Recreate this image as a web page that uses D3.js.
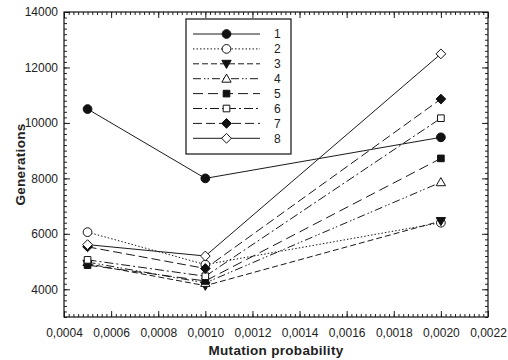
<!DOCTYPE html>
<html>
<head>
<meta charset="utf-8">
<script src="https://cdn.jsdelivr.net/npm/d3@7"></script>
<style>
  html, body { margin: 0; padding: 0; background: #fff; }
  svg { display: block; font-family: "Liberation Sans", Arial, sans-serif; }
</style>
</head>
<body>
<svg id="chart" width="508" height="360"></svg>
<script>
// Mutation probabilities tested
const mutationRates = [0.0005, 0.0010, 0.0020];

// Generations needed for each configuration (series 1..8)
const seriesNames = ["1", "2", "3", "4", "5", "6", "7", "8"];
const series1 = [10500, 8000, 9480];
const series2 = [6060, 4890, 6400];
const series3 = [4920, 4130, 6460];
const series4 = [4980, 4230, 7860];
const series5 = [4870, 4300, 8720];
const series6 = [5060, 4470, 10170];
const series7 = [5530, 4750, 10860];
const series8 = [5610, 5200, 12490];

// Axis ticks
const xTicks = [0.0004, 0.0006, 0.0008, 0.0010, 0.0012, 0.0014, 0.0016, 0.0018, 0.0020, 0.0022];
const yTicks = [4000, 6000, 8000, 10000, 12000, 14000];

const allSeries = [series1, series2, series3, series4, series5, series6, series7, series8];

// Line style and marker for each series
const styles = [
  { dash: null,                 marker: "circle",   filled: true  },
  { dash: "1.5,2",              marker: "circle",   filled: false },
  { dash: "6,3",                marker: "triDown",  filled: true  },
  { dash: "8,3,1.5,2,1.5,3",    marker: "triUp",    filled: false },
  { dash: "10,5",               marker: "square",   filled: true  },
  { dash: "9,3,2,3",            marker: "square",   filled: false },
  { dash: "9,4",                marker: "diamond",  filled: true  },
  { dash: null,                 marker: "diamond",  filled: false }
];

const svg = d3.select("#chart");
const plot = { left: 64, right: 488, top: 12, bottom: 317 };

const x = d3.scaleLinear().domain([0.0004, 0.0022]).range([plot.left, plot.right]);
const y = d3.scaleLinear().domain([3000, 14000]).range([plot.bottom, plot.top]);

const fmtX = v => d3.format(".4f")(v).replace(".", ",");

// Minor tick positions
const xMinor = d3.range(0, 91).map(i => 0.0004 + i * 0.00002);
const yMinor = d3.range(0, 56).map(i => 3000 + i * 200);

const tickColor = "#222";

function drawAxis(axis, transform, labels) {
  const g = svg.append("g").attr("transform", transform).call(axis);
  g.select(".domain").remove();
  g.selectAll(".tick line").attr("stroke", tickColor);
  g.selectAll("text").attr("fill", "#222").style("font-size", "12px");
  if (!labels) g.selectAll("text").remove();
  return g;
}

// Minor ticks on all four sides, pointing inward
drawAxis(d3.axisBottom(x).tickValues(xMinor).tickSize(-3).tickFormat(""), `translate(0,${plot.bottom})`, false);
drawAxis(d3.axisTop(x).tickValues(xMinor).tickSize(-3).tickFormat(""), `translate(0,${plot.top})`, false);
drawAxis(d3.axisLeft(y).tickValues(yMinor).tickSize(-3).tickFormat(""), `translate(${plot.left},0)`, false);
drawAxis(d3.axisRight(y).tickValues(yMinor).tickSize(-3).tickFormat(""), `translate(${plot.right},0)`, false);

// Major ticks
drawAxis(d3.axisBottom(x).tickValues(xTicks).tickSize(-6).tickPadding(11).tickFormat(fmtX), `translate(0,${plot.bottom})`, true);
drawAxis(d3.axisTop(x).tickValues(xTicks).tickSize(-6).tickFormat(""), `translate(0,${plot.top})`, false);
drawAxis(d3.axisLeft(y).tickValues(yTicks).tickSize(-6).tickPadding(6).tickFormat(d3.format("d")), `translate(${plot.left},0)`, true);
drawAxis(d3.axisRight(y).tickValues(yTicks).tickSize(-6).tickFormat(""), `translate(${plot.right},0)`, false);

// Plot frame
svg.append("rect")
  .attr("x", plot.left).attr("y", plot.top)
  .attr("width", plot.right - plot.left).attr("height", plot.bottom - plot.top)
  .attr("fill", "none").attr("stroke", "#111").attr("stroke-width", 1.2);

// Marker shapes
const markerTypes = {
  circle: d3.symbolCircle,
  square: d3.symbolSquare,
  triUp: {
    draw(ctx, size) {
      const s = Math.sqrt(size);
      ctx.moveTo(0, -s * 0.6);
      ctx.lineTo(s * 0.6, s * 0.45);
      ctx.lineTo(-s * 0.6, s * 0.45);
      ctx.closePath();
    }
  },
  triDown: {
    draw(ctx, size) {
      const s = Math.sqrt(size);
      ctx.moveTo(0, s * 0.6);
      ctx.lineTo(s * 0.6, -s * 0.45);
      ctx.lineTo(-s * 0.6, -s * 0.45);
      ctx.closePath();
    }
  },
  diamond: {
    draw(ctx, size) {
      const r = Math.sqrt(size) * 0.72;
      ctx.moveTo(0, -r);
      ctx.lineTo(r, 0);
      ctx.lineTo(0, r);
      ctx.lineTo(-r, 0);
      ctx.closePath();
    }
  }
};
const markerSize = { circle: 60, square: 44, triUp: 60, triDown: 60, diamond: 46 };

function markerPath(name) {
  return d3.symbol().type(markerTypes[name]).size(markerSize[name])();
}

const line = d3.line().x((d, i) => x(mutationRates[i])).y(d => y(d));

// Lines first, then markers on top
allSeries.forEach((vals, i) => {
  const st = styles[i];
  svg.append("path")
    .datum(vals)
    .attr("d", line)
    .attr("fill", "none")
    .attr("stroke", "#1a1a1a")
    .attr("stroke-width", 1)
    .attr("stroke-dasharray", st.dash);
});

allSeries.forEach((vals, i) => {
  const st = styles[i];
  svg.append("g").selectAll("path")
    .data(vals)
    .join("path")
    .attr("d", markerPath(st.marker))
    .attr("transform", (d, j) => `translate(${x(mutationRates[j])},${y(d)})`)
    .attr("fill", st.filled ? "#111" : "#fff")
    .attr("stroke", "#111")
    .attr("stroke-width", 1);
});

// Legend
const legend = svg.append("g");
legend.append("rect")
  .attr("x", 186).attr("y", 19)
  .attr("width", 105).attr("height", 135)
  .attr("fill", "#fff").attr("stroke", "#111").attr("stroke-width", 1.2);

seriesNames.forEach((name, i) => {
  const st = styles[i];
  const ly = 34 + i * 14.9;
  legend.append("line")
    .attr("x1", 193).attr("x2", 260).attr("y1", ly).attr("y2", ly)
    .attr("stroke", "#1a1a1a").attr("stroke-width", 1)
    .attr("stroke-dasharray", st.dash);
  legend.append("path")
    .attr("d", markerPath(st.marker))
    .attr("transform", `translate(226.5,${ly})`)
    .attr("fill", st.filled ? "#111" : "#fff")
    .attr("stroke", "#111").attr("stroke-width", 1);
  legend.append("text")
    .attr("x", 274).attr("y", ly).attr("dy", "0.35em")
    .attr("fill", "#222").style("font-size", "12px")
    .text(name);
});

// Axis titles
svg.append("text")
  .attr("x", (plot.left + plot.right) / 2).attr("y", 355)
  .attr("text-anchor", "middle")
  .style("font-size", "13.5px").style("font-weight", "bold").attr("fill", "#222")
  .style("letter-spacing", "0.3px")
  .text("Mutation probability");

svg.append("text")
  .attr("transform", `translate(25,${(plot.top + plot.bottom) / 2}) rotate(-90)`)
  .attr("text-anchor", "middle")
  .style("font-size", "13.5px").style("font-weight", "bold").attr("fill", "#222")
  .style("letter-spacing", "0.3px")
  .text("Generations");
</script>
</body>
</html>
